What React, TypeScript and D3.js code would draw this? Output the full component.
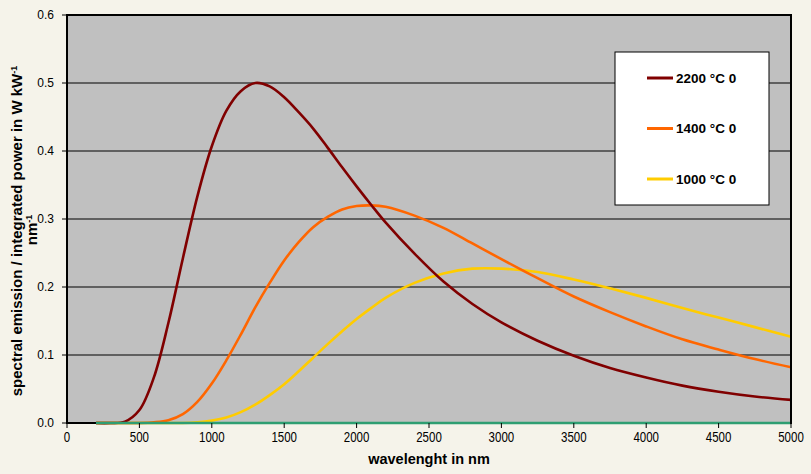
import React from "react";
import * as d3 from "d3";

const wavelengths = [200, 300, 400, 500, 600, 700, 800, 900, 1000, 1100, 1200, 1300, 1400, 1500, 1600, 1700, 1800, 1900, 2000, 2100, 2200, 2400, 2600, 2800, 3000, 3250, 3500, 3750, 4000, 4250, 4500, 4750, 5000];

const series2200 = [0, 0, 0.002, 0.019, 0.067, 0.147, 0.242, 0.333, 0.407, 0.459, 0.488, 0.5, 0.495, 0.479, 0.457, 0.433, 0.405, 0.376, 0.348, 0.321, 0.295, 0.249, 0.208, 0.175, 0.148, 0.121, 0.099, 0.081, 0.067, 0.055, 0.046, 0.039, 0.034];
const series1400 = [0, 0, 0, 0, 0.001, 0.004, 0.013, 0.031, 0.058, 0.092, 0.13, 0.17, 0.206, 0.239, 0.266, 0.288, 0.303, 0.314, 0.319, 0.32, 0.318, 0.305, 0.287, 0.264, 0.241, 0.213, 0.186, 0.163, 0.142, 0.123, 0.108, 0.094, 0.082];
const series1000 = [0, 0, 0, 0, 0, 0, 0, 0.001, 0.0035, 0.008, 0.016, 0.027, 0.041, 0.057, 0.076, 0.096, 0.116, 0.135, 0.153, 0.169, 0.184, 0.206, 0.22, 0.227, 0.227, 0.222, 0.211, 0.198, 0.184, 0.169, 0.155, 0.141, 0.127];
const seriesZero = wavelengths.map(() => 0);

const seriesNames = ["2200 °C 0", "1400 °C 0", "1000 °C 0"];
const seriesColors = ["#800000", "#FF6600", "#FFCC00"];

const xTicks = [0, 500, 1000, 1500, 2000, 2500, 3000, 3500, 4000, 4500, 5000];
const yTicks = [0, 0.1, 0.2, 0.3, 0.4, 0.5, 0.6];

const W = 811;
const H = 474;
const L = 67, R = 791, T = 15, B = 423;

export default function App() {
  const x = d3.scaleLinear().domain([0, 5000]).range([L, R]);
  const y = d3.scaleLinear().domain([0, 0.6]).range([B, T]);
  const line = d3
    .line<number>()
    .x((_, i) => x(wavelengths[i]))
    .y((d) => y(d))
    .curve(d3.curveCatmullRom.alpha(0.5));

  const all = [series2200, series1400, series1000];
  const drawOrder = [2, 1, 0];
  const font = "'Liberation Sans', Arial, sans-serif";

  return (
    <svg
      width={W}
      height={H}
      style={{ position: "absolute", left: 0, top: 0, background: "#F5F3EA" }}
      fontFamily={font}
    >
      <rect x={0} y={0} width={W} height={H} fill="#F5F3EA" />
      <rect x={L} y={T} width={R - L} height={B - T} fill="#C0C0C0" />
      {yTicks.slice(1, -1).map((t) => (
        <line key={"g" + t} x1={L} x2={R} y1={y(t)} y2={y(t)} stroke="#000" strokeWidth={1} />
      ))}
      {drawOrder.map((k) => (
        <path key={"s" + k} d={line(all[k]) || ""} fill="none" stroke={seriesColors[k]} strokeWidth={2.6} strokeLinejoin="round" />
      ))}
      <line x1={L} x2={R} y1={B} y2={B} stroke="#000" strokeWidth={2} />
      <path d={line(seriesZero) || ""} fill="none" stroke="#2E9E72" strokeWidth={2.6} />
      <line x1={L} x2={L} y1={T - 1} y2={B + 1} stroke="#000" strokeWidth={2} />
      <line x1={L - 1} x2={R + 1} y1={T} y2={T} stroke="#000" strokeWidth={2} />
      <line x1={R} x2={R} y1={T - 1} y2={B + 1} stroke="#000" strokeWidth={2} />
      {xTicks.map((t) => {
        const s = String(t);
        return (
          <g key={"x" + t}>
            <line x1={x(t)} x2={x(t)} y1={B} y2={B + 5} stroke="#000" strokeWidth={1} />
            <text
              x={x(t)}
              y={442}
              textAnchor="middle"
              fontSize={14}
              fill="#000"
              textLength={s.length * 6.4}
              lengthAdjust="spacingAndGlyphs"
            >
              {s}
            </text>
          </g>
        );
      })}
      {yTicks.map((t) => (
        <g key={"y" + t}>
          <line x1={L - 5} x2={L} y1={y(t)} y2={y(t)} stroke="#000" strokeWidth={1} />
          <text x={54} y={y(t) + 4.3} textAnchor="end" fontSize={12} fill="#000">
            {t.toFixed(1)}
          </text>
        </g>
      ))}
      <text x={(L + R) / 2} y={464} textAnchor="middle" fontSize={14.5} fontWeight="bold" fill="#000">
        wavelenght in nm
      </text>
      <g transform="translate(22,231) rotate(-90)">
        <text x={0} y={0} textAnchor="middle" fontSize={15} fontWeight="bold" fill="#000">
          spectral emission  / integrated power in W kW
          <tspan dy={-5} fontSize={9}>-1</tspan>
        </text>
      </g>
      <g transform="translate(37,230) rotate(-90)">
        <text x={0} y={0} textAnchor="middle" fontSize={15} fontWeight="bold" fill="#000">
          nm
          <tspan dy={-5} fontSize={9}>-1</tspan>
        </text>
      </g>
      <rect x={615} y={52} width={154} height={153} fill="#fff" stroke="#000" strokeWidth={1} />
      {seriesNames.map((n, i) => (
        <g key={"l" + i}>
          <line x1={647} x2={673} y1={78 + i * 50.5} y2={78 + i * 50.5} stroke={seriesColors[i]} strokeWidth={3} />
          <text x={676} y={78 + i * 50.5 + 4.5} fontSize={13.5} fontWeight="bold" fill="#000">
            {n}
          </text>
        </g>
      ))}
    </svg>
  );
}
